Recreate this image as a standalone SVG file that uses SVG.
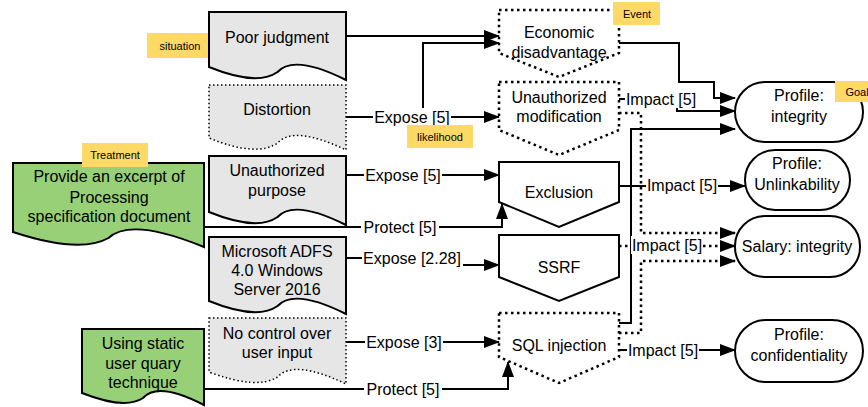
<svg xmlns="http://www.w3.org/2000/svg" width="868" height="407" viewBox="0 0 868 407">
<defs>
<marker id="ah" markerUnits="userSpaceOnUse" markerWidth="16" markerHeight="12" refX="15" refY="6" orient="auto">
<path d="M0,0 L16,6 L0,12 Z" fill="#000"/>
</marker>
<style>
text{font-family:"Liberation Sans",Arial,sans-serif;fill:#000;text-anchor:middle;dominant-baseline:central}
.t{font-size:16px}
.s{font-size:11px}
.doc{fill:#e6e6e6;stroke:#000;stroke-width:2}
.docd{fill:#e6e6e6;stroke:#000;stroke-width:1.5;stroke-dasharray:1.5 2.5}
.grn{fill:#97d077;stroke:#000;stroke-width:2}
.ev{fill:#fff;stroke:#000;stroke-width:2}
.evd{fill:#fff;stroke:#000;stroke-width:2.5;stroke-dasharray:2.5 3.5}
.goal{fill:#fff;stroke:#000;stroke-width:2}
.tag{fill:#ffd966;stroke:none}
.e{fill:none;stroke:#000;stroke-width:2;marker-end:url(#ah)}
.ed{fill:none;stroke:#000;stroke-width:2.5;stroke-dasharray:2.5 3.5;marker-end:url(#ah)}
.lb{fill:#fff;stroke:none}
</style>
</defs>
<rect width="868" height="407" fill="#fff"/>

<g id="tag-situation"><rect class="tag" x="147" y="33" width="64" height="25"/><text class="s" x="180" y="46">situation</text></g>

<g id="poor-judgment"><path class="doc" d="M209,12 H346 V80 Q294,54 277.5,72 Q257,86.5 209,67 Z"/><text class="t" x="277" y="37">Poor judgment</text></g>
<g id="distortion"><path class="docd" d="M209,85 H346 V150 Q294,125 277.5,143 Q257,157.5 209,138 Z"/><text class="t" x="277" y="109">Distortion</text></g>
<g id="unauthorized-purpose"><path class="doc" d="M209,156 H346 V225 Q294,199 277.5,217 Q257,231.5 209,212 Z"/><text class="t" x="277" y="170">Unauthorized</text><text class="t" x="277" y="190">purpose</text></g>
<g id="adfs"><path class="doc" d="M209,237 H346 V314 Q294,288 277.5,306 Q257,320.5 209,301 Z"/><text class="t" x="277" y="251">Microsoft ADFS</text><text class="t" x="277" y="270">4.0 Windows</text><text class="t" x="277" y="289">Server 2016</text></g>
<g id="no-control"><path class="docd" d="M209,318 H346 V384 Q294,359 277.5,377 Q257,390 209,372 Z"/><text class="t" x="277" y="333">No control over</text><text class="t" x="277" y="352">user input</text></g>

<g id="provide-excerpt"><path class="grn" d="M13,163 H204 V247 Q131,217 108.5,238 Q80,254 13,232 Z"/><text class="t" x="109" y="176">Provide an excerpt of</text><text class="t" x="109" y="197">Processing</text><text class="t" x="109" y="216">specification document</text></g>
<g id="using-static"><path class="grn" d="M82,329 H204 V405 Q158,381 143,398 Q125,410 82,393 Z"/><text class="t" x="143" y="343">Using static</text><text class="t" x="143" y="363">user quary</text><text class="t" x="143" y="382">technique</text></g>

<g id="economic-disadvantage"><polygon class="evd" points="499,10 619,10 619,53 559,77 499,53"/><text class="t" x="559" y="32">Economic</text><text class="t" x="559" y="52">disadvantage</text></g>
<g id="unauthorized-modification"><polygon class="evd" points="499,82 619,82 619,130 559,155 499,130"/><text class="t" x="559" y="97">Unauthorized</text><text class="t" x="559" y="116">modification</text></g>
<g id="exclusion"><polygon class="ev" points="499,162 619,162 619,202 559,227 499,202"/><text class="t" x="559" y="192">Exclusion</text></g>
<g id="ssrf"><polygon class="ev" points="499,235 619,235 619,277 559,301 499,277"/><text class="t" x="559" y="267">SSRF</text></g>
<g id="sql-injection"><polygon class="evd" points="499,313 619,313 619,357 559,383 499,357"/><text class="t" x="559" y="345">SQL injection</text></g>

<g id="profile-integrity"><rect class="goal" x="735" y="82" width="128" height="60" rx="30"/><text class="t" x="799" y="95">Profile:</text><text class="t" x="799" y="116">integrity</text></g>
<g id="profile-unlinkability"><rect class="goal" x="745" y="150" width="105" height="60" rx="30"/><text class="t" x="797" y="163">Profile:</text><text class="t" x="797" y="184">Unlinkability</text></g>
<g id="salary-integrity"><rect class="goal" x="735" y="216" width="125" height="61" rx="30"/><text class="t" x="797" y="246">Salary: integrity</text></g>
<g id="profile-confidentiality"><rect class="goal" x="735" y="320" width="128" height="62" rx="31"/><text class="t" x="799" y="334">Profile:</text><text class="t" x="799" y="355">confidentiality</text></g>

<g id="connectors">
<path class="e" d="M346,36 H499"/>
<path class="e" d="M346,117 H423 V43 H499"/>
<path class="e" d="M346,117 H499"/>
<path class="e" d="M346,175 H499"/>
<path class="e" d="M204,227 H502 V204"/>
<path class="e" d="M346,258 H430 V265 H499"/>
<path class="e" d="M346,342 H499"/>
<path class="e" d="M204,389 H508 V362"/>
<path class="e" d="M619,43 H679 V82 H714 V98 H735"/>
<path class="e" d="M619,99 H677 V111 H735"/>
<path class="ed" d="M619,113 H641 V233 H735"/>
<path class="e" d="M619,323 H631 V129 H735"/>
<path class="e" d="M619,186 H745"/>
<path class="ed" d="M619,246 H735"/>
<path class="ed" d="M619,333 H641 V261 H735"/>
<path class="e" d="M619,350 H735"/>
<g id="edge-labels">
<rect class="lb" x="373" y="108" width="78" height="18"/><text class="t" x="412" y="117">Expose [5]</text>
<rect class="lb" x="364" y="166" width="78" height="18"/><text class="t" x="403" y="175">Expose [5]</text>
<rect class="lb" x="361" y="218" width="78" height="18"/><text class="t" x="400" y="227">Protect [5]</text>
<rect class="lb" x="362" y="249" width="101" height="18"/><text class="t" x="412" y="258">Expose [2.28]</text>
<rect class="lb" x="365" y="333" width="78" height="18"/><text class="t" x="404" y="342">Expose [3]</text>
<rect class="lb" x="364" y="380" width="78" height="18"/><text class="t" x="403" y="389">Protect [5]</text>
<rect class="lb" x="625" y="90" width="72" height="18"/><text class="t" x="661" y="99">Impact [5]</text>
<rect class="lb" x="646" y="176" width="72" height="18"/><text class="t" x="682" y="185">Impact [5]</text>
<rect class="lb" x="631" y="236" width="72" height="18"/><text class="t" x="667" y="245">Impact [5]</text>
<rect class="lb" x="627" y="341" width="72" height="18"/><text class="t" x="663" y="350">Impact [5]</text>
</g>
</g>

<g id="tag-treatment"><rect class="tag" x="82" y="143" width="66" height="24"/><text class="s" x="115" y="155">Treatment</text></g>
<g id="tag-likelihood"><rect class="tag" x="407" y="125" width="66" height="23"/><text class="s" x="440" y="137">likelihood</text></g>
<g id="tag-event"><rect class="tag" x="613" y="2" width="47" height="23"/><text class="s" x="637" y="14">Event</text></g>
<g id="tag-goal"><rect class="tag" x="835" y="81" width="44" height="21"/><text class="s" x="857" y="92">Goal</text></g>
</svg>
